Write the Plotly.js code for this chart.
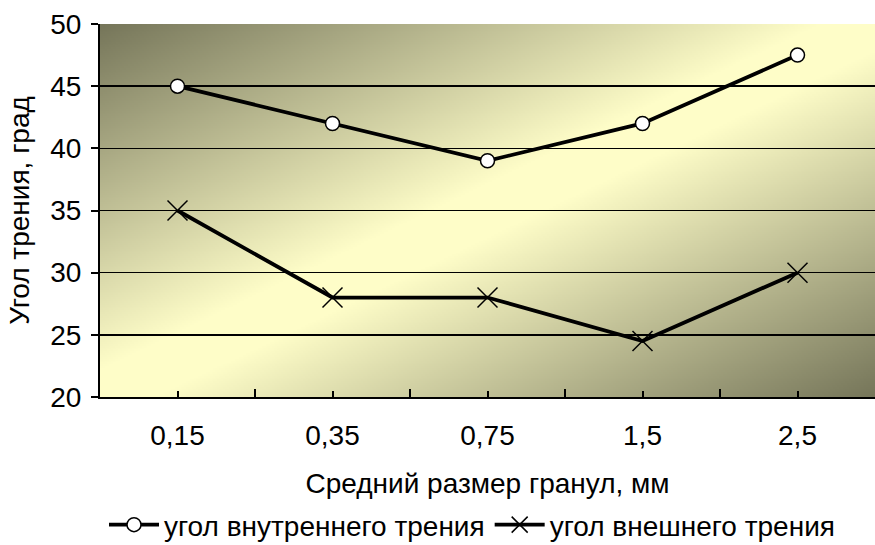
<!DOCTYPE html>
<html>
<head>
<meta charset="utf-8">
<script src="https://cdn.plot.ly/plotly-3.0.1.min.js"></script>
<style>html,body{margin:0;padding:0;background:#fff;}#chart{width:875px;height:545px;}</style>
</head>
<body>
<div id="chart"></div>
<script>
const categories = ["0,15", "0,35", "0,75", "1,5", "2,5"];
const innerFriction = [45, 42, 39, 42, 47.5];
const outerFriction = [35, 28, 28, 24.5, 30];
const seriesNames = ["угол внутреннего трения", "угол внешнего трения"];
const yTicks = [20, 25, 30, 35, 40, 45, 50];

function gradientURL() {
  const w = 400, h = 200;
  const c = document.createElement("canvas");
  c.width = w; c.height = h;
  const ctx = c.getContext("2d");
  const img = ctx.createImageData(w, h);
  const dark = [118, 118, 90], light = [254, 253, 200];
  for (let y = 0; y < h; y++) {
    for (let x = 0; x < w; x++) {
      const u = (x / (w - 1) + y / (h - 1)) / 2;
      let t = 1 - Math.abs(u - 0.5) * 2;
      t = Math.min(1, t * 1.08);
      const i = (y * w + x) * 4;
      for (let k = 0; k < 3; k++) img.data[i + k] = Math.round(dark[k] + (light[k] - dark[k]) * t);
      img.data[i + 3] = 255;
    }
  }
  ctx.putImageData(img, 0, 0);
  return c.toDataURL();
}

const xIdx = categories.map((c, i) => i);
const font = "Liberation Sans, Arial, sans-serif";
const fs = 28;

const traces = [
  {
    x: xIdx, y: innerFriction, name: seriesNames[0], type: "scatter", mode: "lines+markers",
    line: {color: "#000", width: 3.8},
    marker: {symbol: "circle", size: 14, color: "#fff", line: {color: "#000", width: 1.5}}
  },
  {
    x: xIdx, y: outerFriction, name: seriesNames[1], type: "scatter", mode: "lines+markers",
    line: {color: "#000", width: 3.8},
    marker: {symbol: "x-thin-open", size: 20, color: "#000", line: {color: "#000", width: 1.5}}
  }
];

const layout = {
  width: 875, height: 545,
  margin: {l: 100, r: 0, t: 24, b: 148, autoexpand: false},
  paper_bgcolor: "#fff", plot_bgcolor: "rgba(0,0,0,0)",
  font: {family: font, size: fs, color: "#000"},
  showlegend: true,
  legend: {orientation: "h", x: 0.48, xanchor: "center", y: -0.343, yanchor: "middle",
           font: {family: font, size: fs, color: "#000"}, bgcolor: "rgba(0,0,0,0)", itemwidth: 50, tracegroupgap: 0},
  images: [{source: gradientURL(), xref: "paper", yref: "paper", x: 0, y: 1, sizex: 1, sizey: 1,
            sizing: "stretch", layer: "below"}],
  xaxis: {
    range: [-0.5, 4.5], tickmode: "array", tickvals: xIdx, ticktext: categories,
    ticks: "inside", ticklen: 6, tickwidth: 2, tickcolor: "#000",
    minor: {tickmode: "array", tickvals: [0.5, 1.5, 2.5, 3.5], ticks: "inside", ticklen: 8, tickwidth: 2, tickcolor: "#000", showgrid: false},
    showline: true, linecolor: "#000", linewidth: 2, showgrid: false, zeroline: false,
    tickfont: {family: font, size: fs}, ticklabelstandoff: 12,
    title: {text: "Средний размер гранул, мм", font: {family: font, size: fs}, standoff: 24},
    fixedrange: true
  },
  yaxis: {
    range: [20, 50], tickmode: "array", tickvals: yTicks,
    ticks: "outside", ticklen: 7, tickwidth: 2, tickcolor: "#000",
    showline: true, linecolor: "#000", linewidth: 2,
    showgrid: true, gridcolor: "#000", gridwidth: 1.5, zeroline: false,
    tickfont: {family: font, size: fs}, ticklabelstandoff: 4,
    title: {text: "Угол трения, град", font: {family: font, size: fs}, standoff: 12},
    fixedrange: true
  }
};

Plotly.newPlot("chart", traces, layout, {displayModeBar: false, staticPlot: true});
</script>
</body>
</html>
